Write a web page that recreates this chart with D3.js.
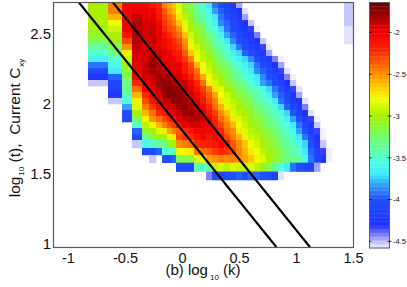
<!DOCTYPE html>
<html>
<head>
<meta charset="utf-8">
<script src="https://cdn.jsdelivr.net/npm/d3@7"></script>
<style>
  html, body { margin: 0; padding: 0; background: #fff; }
  text { font-family: "Liberation Sans", Arial, sans-serif; fill: #111; }
</style>
</head>
<body>
<div id="chart"></div>
<script>
// bin edges of the heatmap, log10(k) and log10(t)
var kEdges = [-0.825, -0.649, -0.526, -0.439, -0.351, -0.289, -0.228, -0.175, -0.132, -0.088, -0.053,
  0.000, 0.053, 0.105, 0.158, 0.211, 0.263, 0.316, 0.368, 0.421, 0.474, 0.526, 0.579, 0.632, 0.684,
  0.737, 0.789, 0.842, 0.895, 0.947, 1.000, 1.053, 1.105, 1.158, 1.211, 1.263, 1.316, 1.368, 1.421, 1.504]
var tEdges = [2.72, 2.681, 2.638, 2.595, 2.553, 2.510, 2.467, 2.424, 2.382, 2.339, 2.296, 2.253, 2.211, 2.168,
  2.125, 2.083, 2.040, 1.997, 1.954, 1.912, 1.869, 1.826, 1.783, 1.741, 1.684, 1.634, 1.579, 1.516, 1.456]

// first k bin of each row of cellRows
var rowStart = [0, 0, 0, 0, 0, 0, 0, 0, 0, 0, 0, 0, 0, 0, 1, 1, 1, 2, 2, 2, 3, 3, 3, 3, 4, 5, 10, 15]

// log10 C per cell, top row first
var cellRows = [
  [-3.0,-2.45,-2.05,-2.05,-2.05,-2.1,-2.2,-2.45,-2.55,-2.65,-2.85,-3.1,-3.2,-3.35,-3.5,-3.7,-3.9,-4.05,-4.15,-4.25,-4.45],
  [-3.0,-2.45,-2.05,-2.0,-2.0,-2.05,-2.15,-2.35,-2.5,-2.6,-2.8,-3.05,-3.15,-3.3,-3.45,-3.6,-3.8,-3.95,-4.1,-4.2,-4.3,-4.55],
  [-3.0,-2.6,-2.05,-1.9,-2.0,-2.0,-2.1,-2.3,-2.4,-2.5,-2.7,-2.95,-3.1,-3.25,-3.4,-3.55,-3.7,-3.9,-4.0,-4.15,-4.25,-4.45],
  [-3.0,-2.8,-2.05,-1.85,-1.95,-1.95,-2.05,-2.25,-2.35,-2.45,-2.65,-2.85,-3.05,-3.2,-3.3,-3.5,-3.65,-3.85,-3.95,-4.1,-4.2,-4.3,-4.5],
  [-3.05,-2.9,-2.05,-1.85,-1.95,-1.9,-2.05,-2.2,-2.3,-2.35,-2.5,-2.75,-3.0,-3.1,-3.2,-3.4,-3.55,-3.75,-3.9,-4.05,-4.15,-4.25,-4.35,-4.6],
  [-3.1,-3.0,-2.1,-1.85,-1.95,-1.9,-2.0,-2.1,-2.2,-2.3,-2.4,-2.65,-2.9,-3.05,-3.15,-3.3,-3.45,-3.65,-3.8,-3.95,-4.1,-4.2,-4.25,-4.4],
  [-3.2,-3.05,-2.3,-1.85,-1.95,-1.9,-2.0,-2.05,-2.1,-2.2,-2.3,-2.5,-2.85,-3.0,-3.1,-3.2,-3.4,-3.5,-3.7,-3.85,-4.0,-4.1,-4.2,-4.3,-4.5],
  [-3.35,-3.2,-2.5,-1.9,-1.95,-1.95,-2.0,-2.05,-2.1,-2.15,-2.25,-2.45,-2.75,-2.9,-3.05,-3.15,-3.3,-3.45,-3.55,-3.75,-3.9,-4.05,-4.15,-4.25,-4.35,-4.6],
  [-3.5,-3.3,-2.75,-1.95,-1.95,-1.85,-1.95,-2.0,-2.05,-2.1,-2.15,-2.35,-2.65,-2.85,-2.95,-3.1,-3.2,-3.35,-3.5,-3.65,-3.75,-3.95,-4.05,-4.15,-4.25,-4.45],
  [-3.65,-3.5,-2.9,-1.95,-1.95,-1.8,-1.9,-2.0,-2.0,-2.05,-2.1,-2.25,-2.45,-2.75,-2.95,-3.0,-3.15,-3.25,-3.4,-3.55,-3.65,-3.75,-3.85,-4.05,-4.15,-4.25,-4.4,-4.6],
  [-3.9,-3.6,-3.05,-2.0,-1.9,-1.75,-1.85,-1.95,-2.0,-2.0,-2.0,-2.15,-2.3,-2.6,-2.8,-2.95,-3.1,-3.2,-3.25,-3.4,-3.55,-3.65,-3.75,-3.9,-4.05,-4.15,-4.3,-4.45],
  [-4.1,-3.7,-3.15,-2.0,-1.9,-1.8,-1.85,-1.9,-1.95,-2.0,-2.0,-2.1,-2.25,-2.4,-2.75,-2.9,-3.0,-3.15,-3.2,-3.3,-3.45,-3.6,-3.7,-3.85,-3.95,-4.1,-4.2,-4.35,-4.55],
  [-4.25,-3.95,-3.2,-2.05,-1.95,-1.9,-1.8,-1.8,-1.85,-1.95,-1.95,-2.05,-2.15,-2.35,-2.55,-2.8,-2.95,-3.05,-3.15,-3.25,-3.35,-3.5,-3.6,-3.7,-3.85,-4.0,-4.1,-4.25,-4.4,-4.6],
  [-4.5,-4.1,-3.3,-2.2,-2.0,-1.95,-1.8,-1.75,-1.8,-1.85,-1.9,-1.95,-2.05,-2.2,-2.4,-2.75,-2.9,-3.0,-3.1,-3.2,-3.25,-3.4,-3.55,-3.65,-3.8,-3.9,-4.05,-4.15,-4.3,-4.5],
  [-4.15,-3.3,-2.4,-2.05,-2.0,-1.85,-1.75,-1.7,-1.75,-1.8,-1.85,-2.0,-2.1,-2.25,-2.45,-2.7,-2.85,-3.0,-3.1,-3.2,-3.25,-3.35,-3.5,-3.6,-3.75,-3.9,-4.05,-4.2,-4.35,-4.55],
  [-4.25,-3.4,-2.6,-2.2,-2.05,-1.95,-1.8,-1.7,-1.7,-1.75,-1.85,-1.95,-2.05,-2.2,-2.35,-2.55,-2.8,-2.9,-3.0,-3.15,-3.2,-3.3,-3.4,-3.5,-3.65,-3.8,-3.95,-4.1,-4.25,-4.45],
  [-4.5,-3.6,-2.75,-2.3,-2.1,-2.0,-1.9,-1.85,-1.75,-1.75,-1.8,-1.9,-2.0,-2.1,-2.3,-2.45,-2.7,-2.85,-2.95,-3.05,-3.15,-3.2,-3.35,-3.45,-3.55,-3.7,-3.9,-4.05,-4.2,-4.3,-4.55],
  [-3.8,-2.85,-2.45,-2.25,-2.1,-2.0,-1.95,-1.9,-1.8,-1.75,-1.85,-1.95,-2.05,-2.2,-2.4,-2.6,-2.75,-2.9,-3.0,-3.1,-3.15,-3.25,-3.35,-3.45,-3.55,-3.75,-3.95,-4.1,-4.2,-4.4],
  [-4.05,-3.0,-2.6,-2.4,-2.2,-2.1,-2.05,-2.0,-1.9,-1.8,-1.75,-1.85,-1.95,-2.1,-2.25,-2.5,-2.65,-2.85,-2.95,-3.0,-3.1,-3.2,-3.25,-3.35,-3.45,-3.6,-3.75,-4.0,-4.15,-4.3,-4.55],
  [-4.1,-3.2,-2.75,-2.5,-2.4,-2.3,-2.2,-2.1,-2.0,-1.9,-1.85,-1.85,-1.9,-2.05,-2.2,-2.4,-2.55,-2.7,-2.85,-2.95,-3.05,-3.15,-3.2,-3.3,-3.4,-3.5,-3.65,-3.8,-4.0,-4.2,-4.35,-4.6],
  [-3.5,-2.95,-2.75,-2.6,-2.45,-2.35,-2.25,-2.1,-2.0,-1.95,-1.95,-2.0,-2.0,-2.15,-2.3,-2.45,-2.6,-2.8,-2.9,-3.0,-3.1,-3.15,-3.25,-3.3,-3.45,-3.55,-3.7,-3.9,-4.1,-4.25,-4.5],
  [-3.95,-3.1,-3.0,-2.85,-2.7,-2.55,-2.45,-2.35,-2.2,-2.1,-2.05,-2.05,-2.05,-2.05,-2.2,-2.4,-2.5,-2.7,-2.85,-2.95,-3.05,-3.1,-3.2,-3.25,-3.35,-3.5,-3.6,-3.8,-4.0,-4.2,-4.35,-4.6],
  [-4.1,-3.3,-3.15,-3.05,-3.0,-2.85,-2.7,-2.3,-2.25,-2.2,-2.1,-2.05,-2.1,-2.05,-2.1,-2.3,-2.45,-2.6,-2.75,-2.9,-2.95,-3.05,-3.15,-3.2,-3.3,-3.4,-3.55,-3.7,-3.9,-4.1,-4.3,-4.6],
  [-4.5,-3.6,-3.5,-3.35,-3.25,-3.1,-3.0,-2.5,-2.45,-2.4,-2.2,-2.15,-2.15,-2.1,-2.05,-2.15,-2.35,-2.5,-2.65,-2.8,-2.9,-3.0,-3.1,-3.15,-3.25,-3.35,-3.45,-3.6,-3.75,-4.0,-4.25,-4.5],
  [-4.05,-4.05,-3.95,-3.55,-3.5,-3.45,-2.8,-2.75,-2.7,-2.45,-2.4,-2.35,-2.25,-2.2,-2.25,-2.3,-2.45,-2.6,-2.7,-2.8,-2.95,-3.05,-3.1,-3.2,-3.3,-3.4,-3.5,-3.7,-3.95,-4.15,-4.35,-4.6],
  [-4.5,null,-4.0,-4.0,-3.95,-3.2,-3.2,-3.15,-2.85,-2.75,-2.55,-2.5,-2.45,-2.5,-2.45,-2.5,-2.55,-2.65,-2.75,-2.85,-3.0,-3.1,-3.2,-3.25,-3.3,-3.35,-3.6,-3.9,-4.1,-4.25,-4.6],
  [-4.1,-4.05,-4.1,-3.4,-3.45,-3.4,-2.95,-2.85,-2.95,-2.85,-2.9,-2.95,-2.85,-2.95,-3.05,-3.2,-3.3,-3.55,-3.7,-3.9,-4.0,-4.1,-4.15,-4.45],
  [-4.4,-4.05,-4.1,-4.05,-4.0,-3.95,-4.0,-3.95,-3.95,-4.0,-4.05,-4.15,-4.55]
]

// faint patch in the top right corner, last k bin, first rows
var cornerColumn = [-4.5, -4.5, -4.52, -4.52, -4.55, -4.55, -4.58]

// the two straight guide lines
var lineA = [[-0.904, 2.72], [0.829, 0.977]]
var lineB = [[-0.605, 2.72], [1.123, 0.977]]

var kTicks = [-1, -0.5, 0, 0.5, 1, 1.5]
var kTickLabels = ['-1', '-0.5', '0', '0.5', '1', '1.5']
var tTicks = [1, 1.5, 2, 2.5]
var barTicks = [-2, -2.5, -3, -3.5, -4, -4.5]

var colorStops = [-4.58, -4.5, -4.42, -4.3, -4.0, -3.85, -3.7, -3.55, -3.25, -3.0, -2.8, -2.7, -2.45, -2.2, -2.0, -1.8, -1.64]
var colorValues = ['#f0f0ff', '#c0c0ff', '#8080ff', '#2030ff', '#2050ff', '#3090ff', '#40e8ff', '#50ffe0',
  '#70ff70', '#a8f000', '#f0ff00', '#ffe000', '#ff8000', '#ff2000', '#f00000', '#a00000', '#6a0000']

var svg = d3.select('#chart').append('svg')
  .attr('width', 407)
  .attr('height', 287)
  .style('display', 'block')

var x = d3.scaleLinear().domain([-1.127, 1.504]).range([53.5, 353.5])
var y = d3.scaleLinear().domain([0.975, 2.72]).range([247.5, 2.5])
var barY = d3.scaleLinear().domain([-4.58, -1.64]).range([248, 2.5])
var color = d3.scaleLinear().domain(colorStops).range(colorValues).clamp(true)

var levels = 64
var levelStep = (-1.64 + 4.58) / levels
function levelColor(v) {
  var i = Math.min(levels - 1, Math.floor((v + 4.58) / levelStep))
  return color(-4.58 + (i + 0.5) * levelStep)
}

// heatmap
var cells = []
cellRows.forEach(function(row, r) {
  row.forEach(function(v, i) {
    if (v !== null) cells.push({ c: rowStart[r] + i, r: r, v: v })
  })
})
cornerColumn.forEach(function(v, r) {
  cells.push({ c: kEdges.length - 2, r: r, v: v })
})

svg.append('g').selectAll('rect').data(cells).join('rect')
  .attr('x', d => x(kEdges[d.c]))
  .attr('y', d => y(tEdges[d.r]))
  .attr('width', d => x(kEdges[d.c + 1]) - x(kEdges[d.c]) + 0.3)
  .attr('height', d => y(tEdges[d.r + 1]) - y(tEdges[d.r]) + 0.3)
  .attr('fill', d => levelColor(d.v))

// guide lines
var line = d3.line().x(d => x(d[0])).y(d => y(d[1]))
svg.append('g').selectAll('path').data([lineA, lineB]).join('path')
  .attr('d', line)
  .attr('fill', 'none')
  .attr('stroke', '#000')
  .attr('stroke-width', 2.1)

// frame
svg.append('rect')
  .attr('x', 53.5).attr('y', 2.5)
  .attr('width', 300).attr('height', 245)
  .attr('fill', 'none')
  .attr('stroke', '#5a5a5a')
  .attr('stroke-width', 1.2)

// axes, labels only
var xAxis = d3.axisBottom(x)
  .tickValues(kTicks)
  .tickSize(0)
  .tickPadding(0)
  .tickFormat((d, i) => kTickLabels[i])
var gx = svg.append('g').attr('transform', 'translate(0,253)').call(xAxis)
gx.select('.domain').remove()
gx.selectAll('text').attr('font-size', 14.5).attr('font-family', 'Liberation Sans').attr('dy', '0.71em')

var yAxis = d3.axisLeft(y)
  .tickValues(tTicks)
  .tickSize(0)
  .tickPadding(0)
  .tickFormat(d => d)
var gy = svg.append('g').attr('transform', 'translate(51,0)').call(yAxis)
gy.select('.domain').remove()
gy.selectAll('text').attr('font-size', 15).attr('font-family', 'Liberation Sans')

// axis titles
var xTitle = svg.append('text')
  .attr('x', 203)
  .attr('y', 275)
  .attr('text-anchor', 'middle')
  .attr('font-size', 15)
xTitle.append('tspan').text('(b) log')
xTitle.append('tspan').text('10').attr('font-size', 8).attr('dy', 5).attr('dx', 2)
xTitle.append('tspan').text(' (k)').attr('font-size', 15).attr('dy', -5)

var yTitle = svg.append('text')
  .attr('transform', 'translate(20,128) rotate(-90)')
  .attr('text-anchor', 'middle')
  .attr('font-size', 15.5)
yTitle.append('tspan').text('log')
yTitle.append('tspan').text('10').attr('font-size', 8).attr('dy', 4).attr('dx', 1)
yTitle.append('tspan').text(' (t),\u00a0 Current C').attr('font-size', 15.5).attr('dy', -4)
yTitle.append('tspan').text('xy').attr('font-size', 8).attr('dy', 4).attr('dx', 1)

// colorbar
var barLevels = d3.range(levels).map(i => -4.58 + i * levelStep)
svg.append('g').selectAll('rect').data(barLevels).join('rect')
  .attr('x', 369.5)
  .attr('y', d => barY(d + levelStep))
  .attr('width', 20)
  .attr('height', d => barY(d) - barY(d + levelStep) + 0.3)
  .attr('fill', d => levelColor(d + levelStep / 2))
svg.append('rect')
  .attr('x', 369.5).attr('y', 2.5)
  .attr('width', 20).attr('height', 245.5)
  .attr('fill', 'none')
  .attr('stroke', '#5a5a5a')
  .attr('stroke-width', 1)

var barAxis = d3.axisRight(barY)
  .tickValues(barTicks)
  .tickSize(0)
  .tickPadding(3)
  .tickFormat(d => d)
var gb = svg.append('g').attr('transform', 'translate(390,0)').call(barAxis)
gb.select('.domain').remove()
gb.selectAll('text').attr('font-size', 7.5).attr('font-family', 'Liberation Sans')
svg.append('g').selectAll('path').data(barTicks).join('path')
  .attr('d', d => 'M369.5,' + barY(d) + 'h2M387.5,' + barY(d) + 'h4')
  .attr('stroke', '#000')
  .attr('stroke-width', 0.8)
</script>
</body>
</html>
